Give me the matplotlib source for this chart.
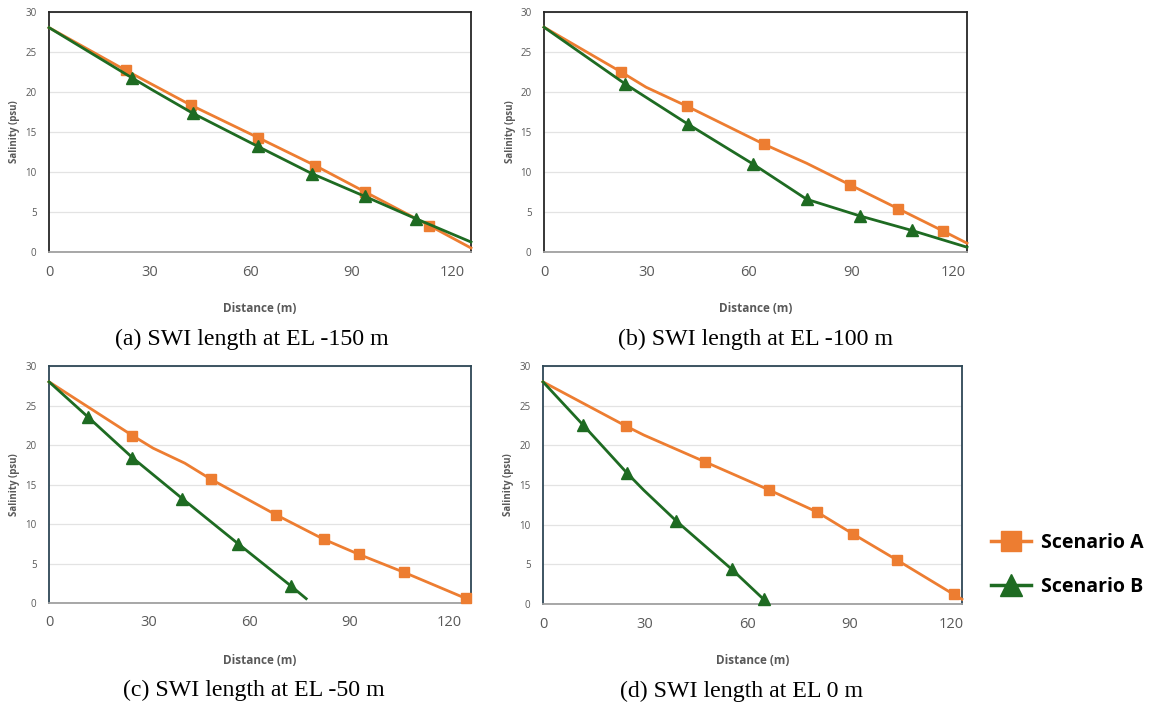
import matplotlib
matplotlib.use("Agg")
import matplotlib.pyplot as plt
from matplotlib.lines import Line2D

# ---------------- data ----------------
# Panel (a) EL -150 m
a_A_x = [0, 22.9, 42.3, 62.4, 79.3, 94.2, 113.3, 125.7]
a_A_y = [28.05, 22.7, 18.35, 14.27, 10.8, 7.5, 3.3, 0.5]
a_A_mark = [1, 2, 3, 4, 5, 6]
a_B_x = [0, 24.6, 30.6, 42.8, 62.2, 78.3, 94.1, 109.3, 125.7]
a_B_y = [28.05, 21.8, 20.3, 17.35, 13.2, 9.8, 6.95, 4.16, 1.25]
a_B_mark = [1, 3, 4, 5, 6, 7]

# Panel (b) EL -100 m
b_A_x = [0, 22.6, 29.9, 42.0, 64.3, 76.9, 89.6, 103.8, 117.0, 123.9]
b_A_y = [28.1, 22.5, 20.6, 18.2, 13.5, 11.1, 8.4, 5.4, 2.6, 1.1]
b_A_mark = [1, 3, 4, 6, 7, 8]
b_B_x = [0, 23.8, 42.1, 61.2, 76.9, 92.6, 107.7, 123.9]
b_B_y = [28.1, 21.0, 16.0, 11.0, 6.6, 4.5, 2.7, 0.6]
b_B_mark = [1, 2, 3, 4, 5, 6]

# Panel (c) EL -50 m
c_A_x = [0, 25.0, 31.2, 40.7, 48.6, 67.9, 82.3, 93.0, 106.5, 124.9]
c_A_y = [28.0, 21.2, 19.6, 17.7, 15.65, 11.2, 8.08, 6.14, 3.87, 0.59]
c_A_mark = [1, 4, 5, 6, 7, 8, 9]
c_B_x = [0, 11.8, 25.0, 40.0, 56.7, 72.4, 77.1]
c_B_y = [28.0, 23.5, 18.4, 13.2, 7.5, 2.2, 0.55]
c_B_mark = [1, 2, 3, 4, 5]

# Panel (d) EL 0 m
d_A_x = [0, 24.5, 29.6, 47.7, 66.3, 80.5, 91.0, 104.0, 120.7, 123.1]
d_A_y = [28.0, 22.4, 21.3, 17.9, 14.4, 11.6, 8.85, 5.54, 1.2, 0.6]
d_A_mark = [1, 3, 4, 5, 6, 7, 8]
d_B_x = [0, 11.7, 24.7, 29.6, 39.2, 55.4, 64.8]
d_B_y = [28.0, 22.6, 16.5, 14.35, 10.45, 4.4, 0.6]
d_B_mark = [1, 2, 4, 5, 6]

captions = ["(a) SWI length at EL -150 m", "(b) SWI length at EL -100 m",
            "(c) SWI length at EL -50 m", "(d) SWI length at EL 0 m"]
series_names = ["Scenario A", "Scenario B"]
x_ticks = [0, 30, 60, 90, 120]
y_ticks = [0, 5, 10, 15, 20, 25, 30]
x_max = [125.7, 123.9, 126.5, 123.1]

panels = [
    (a_A_x, a_A_y, a_A_mark, a_B_x, a_B_y, a_B_mark),
    (b_A_x, b_A_y, b_A_mark, b_B_x, b_B_y, b_B_mark),
    (c_A_x, c_A_y, c_A_mark, c_B_x, c_B_y, c_B_mark),
    (d_A_x, d_A_y, d_A_mark, d_B_x, d_B_y, d_B_mark),
]

# ---------------- style ----------------
W, H = 1150, 707
ORANGE = "#ED7D31"
GREEN = "#1E6B22"
TICK_C = "#595959"
fig = plt.figure(figsize=(W / 100, H / 100), dpi=100)

# axes boxes in pixels: left, right, top, bottom
boxes = [(49, 471, 12, 252), (544, 967, 12, 252),
         (49, 471, 366, 603), (543, 962, 366, 604)]
caption_cx = [252, 756, 254, 742]
frame_cols = ["#262626", "#262626", "#2E4756", "#2E4756"]

def px_axes(l, r, t, b):
    return fig.add_axes([l / W, 1 - b / H, (r - l) / W, (b - t) / H])

for i, (box, data) in enumerate(zip(boxes, panels)):
    l, r, t, b = box
    ax = px_axes(l, r, t, b)
    Ax, Ay, Am, Bx, By, Bm = data
    ax.plot(Ax, Ay, color=ORANGE, lw=2.0, marker="s", markersize=7.5,
            markevery=Am, zorder=3, clip_on=False)
    ax.plot(Bx, By, color=GREEN, lw=2.0, marker="^", markersize=8,
            markevery=Bm, zorder=3, clip_on=False)
    ax.set_xlim(0, x_max[i])
    ax.set_ylim(0, 30)
    ax.set_xticks(x_ticks)
    ax.set_yticks(y_ticks)
    ax.tick_params(axis="x", length=0, pad=9, labelsize=10.5, labelcolor=TICK_C)
    ax.tick_params(axis="y", length=0, pad=9, labelsize=7, labelcolor=TICK_C)
    for lab in ax.get_xticklabels() + ax.get_yticklabels():
        lab.set_family("Open Sans")
    ax.grid(axis="y", color="#E3E3E3", lw=0.9)
    ax.set_axisbelow(True)
    for s in ["top", "left", "right"]:
        ax.spines[s].set_color(frame_cols[i])
        ax.spines[s].set_linewidth(1.3)
    ax.spines["bottom"].set_color("#A0A0A0")
    ax.spines["bottom"].set_linewidth(1.3)

    cx = (l + r) / 2
    # x-axis title
    fig.text(cx / W, 1 - (b + 57) / H, "Distance (m)", ha="center", va="center",
             fontsize=8.5, fontweight="bold", color=TICK_C, family="Open Sans")
    # y-axis title
    fig.text((l - 34) / W, 1 - ((t + b) / 2) / H, "Salinity (psu)", ha="center",
             va="center", rotation=90, fontsize=7, fontweight="bold",
             color=TICK_C, family="Open Sans")
    # caption
    fig.text(caption_cx[i] / W, 1 - (b + 87) / H, captions[i], ha="center",
             va="center", fontsize=17.2, color="black", family="Liberation Serif")

# legend
handles = [
    Line2D([], [], color=ORANGE, lw=2.5, marker="s", markersize=15),
    Line2D([], [], color=GREEN, lw=2.5, marker="^", markersize=16),
]
fig.legend(handles, series_names, loc="center left",
           bbox_to_anchor=(973 / W, 1 - 565 / H), frameon=False,
           prop={"family": "Open Sans", "weight": "bold", "size": 14},
           handlelength=2.1, labelspacing=1.25, handletextpad=0.5)

fig.savefig("out.png", dpi=100)
